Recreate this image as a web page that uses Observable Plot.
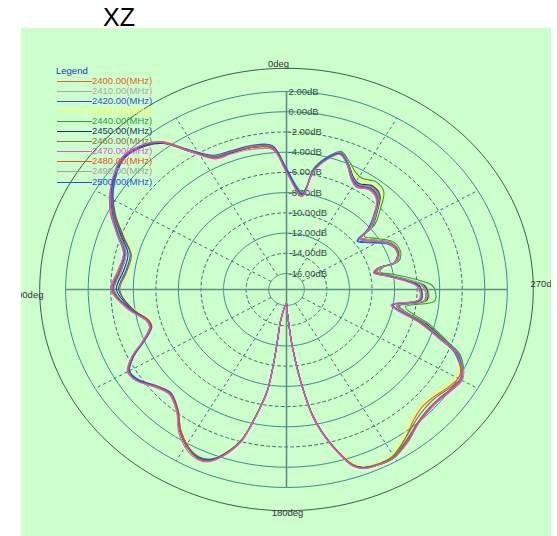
<!DOCTYPE html>
<html><head><meta charset="utf-8">
<script src="https://cdn.jsdelivr.net/npm/d3@7"></script>
<script src="https://cdn.jsdelivr.net/npm/@observablehq/plot@0.6"></script>
<style>
html,body{margin:0;padding:0;background:#fff;}
body{width:557px;height:536px;overflow:hidden;position:relative;font-family:"Liberation Sans",Arial,sans-serif;}
#title{position:absolute;left:103px;top:4px;font-size:25px;line-height:26px;color:#000;}
#panel{position:absolute;left:21px;top:28px;width:530px;height:508px;background:#ccffcc;overflow:hidden;}
#legend{position:absolute;left:0;top:0;width:557px;height:536px;pointer-events:none;font-size:9.5px;}
#legend div{position:absolute;white-space:nowrap;}
</style>
</head><body>
<div id="title">XZ</div>
<div id="panel"></div>
<div id="legend"></div>
<script>
// ---- data ----
const freqs = ["2400.00(MHz)","2410.00(MHz)","2420.00(MHz)","2430.00(MHz)","2440.00(MHz)","2450.00(MHz)","2460.00(MHz)","2470.00(MHz)","2480.00(MHz)","2490.00(MHz)","2500.00(MHz)"];
const colors = ["#e8602a","#a8a8a8","#3050d0","#ffff33","#30a030","#203070","#8a7048","#d65ad6","#f05020","#a0a0a0","#2050e0"];
const drawOrder = [0,1,3,4,5,6,9,2,10,8,7];
const ringLevels = [2,0,-2,-4,-6,-8,-10,-12,-14,-16];
const dashedLevels = [-2,-6,-10,-14];
const spokeAngles = [30,60,120,150,210,240,300,330];
const angleLabels = ["0deg","90deg","180deg","270deg"];
const angleLabelPos = [0,90,180,270];
const angles = [0,5,12,20,26,32,37,41,48,57,
64,70,76,83,90,98,104,107,112,116,
120,124,130,135,141,146,151,155,158,161,
165,168,170.4,171.1,171,170.5,180,182,185.3,187.8,
190.7,194.4,198.8,201.2,205.8,209.7,215.7,221.2,226.2,230.6,
235.5,239.7,242,247.3,250.1,254.5,260.7,265,269.6,272,
274.7,278.8,282,284.7,285.5,290.2,296.3,302.2,307.5,309.5,
313.6,318.4,323.3,328.6,331.9,336.5,340.4,344.3,348.5,351.5];
const s2400 = [-5.7,-3.5,-3.3,-3.1,-3.0,-1.5,0.6,1.3,1.9,0.9,
-0.4,-1.6,-2.7,-2.6,-2.1,-3.5,-4.8,-5.0,-3.9,-2.4,
-1.4,-1.5,-2.5,-3.0,-2.3,-0.8,0.3,0.8,0.6,-0.2,
-2.0,-5.0,-7.4,-10.2,-12.5,-14.5,-16.2,-15.2,-11.7,-8.4,
-4.6,-1.9,0.7,1.3,1.5,1.5,0.5,-0.45,-0.87,-0.77,
-0.35,-0.02,-0.1,-1.2,-2.8,-4.9,-7.6,-5.2,-5.25,-5.5,
-6.6,-8.4,-9.5,-9.0,-7.6,-7.0,-7.3,-8.5,-9.2,-7.9,
-6.7,-5.3,-5.0,-5.5,-5.2,-4.0,-3.3,-4.1,-5.6,-8.0];
const s2410 = [-5.7,-3.4,-3.1,-3.0,-2.9,-1.3,0.7,1.5,2.0,0.9,
-0.4,-1.8,-2.9,-2.8,-2.3,-3.5,-4.8,-4.9,-3.8,-2.3,
-1.3,-1.5,-2.5,-2.9,-2.1,-0.6,0.4,0.9,0.7,-0.1,
-2.0,-4.9,-7.4,-10.1,-12.4,-14.4,-16.1,-15.1,-11.7,-8.4,
-4.6,-1.7,0.9,1.4,1.6,1.6,0.9,0.1,-0.2,-0.2,
0.1,0.4,0.2,-1.0,-2.6,-4.7,-7.4,-5.0,-5.0,-5.3,
-6.4,-8.2,-9.3,-8.9,-7.5,-6.9,-7.2,-8.4,-9.2,-7.8,
-6.6,-5.3,-5.0,-5.4,-5.0,-3.9,-3.2,-4.0,-5.5,-7.9];
const s2420 = [-5.6,-3.3,-3.0,-3.0,-2.8,-1.3,0.6,1.4,1.8,0.7,
-0.7,-2.2,-3.3,-3.2,-2.7,-3.8,-5.0,-5.1,-4.0,-2.5,
-1.5,-1.7,-2.7,-3.1,-2.2,-0.7,0.4,0.8,0.6,-0.3,
-2.2,-5.1,-7.5,-10.3,-12.6,-14.6,-16.2,-15.3,-11.9,-8.6,
-4.8,-1.9,0.8,1.3,1.6,1.6,0.9,0.1,-0.2,-0.3,
0.0,0.2,0.0,-1.45,-3.1,-5.3,-8.1,-5.7,-5.6,-5.8,
-6.9,-8.6,-9.6,-9.1,-7.7,-7.1,-7.5,-8.9,-9.7,-8.3,
-6.9,-5.5,-5.2,-5.7,-5.3,-4.1,-3.3,-4.0,-5.5,-8.1];
const s2430 = [-5.8,-3.6,-3.3,-3.2,-3.1,-1.5,0.5,1.3,1.8,0.8,
-0.8,-2.4,-3.5,-3.4,-2.8,-3.9,-5.1,-5.1,-3.9,-2.4,
-1.4,-1.6,-2.5,-2.9,-2.1,-0.6,0.4,0.8,0.5,-0.4,
-2.3,-5.2,-7.6,-10.3,-12.5,-14.5,-16.2,-15.2,-11.8,-8.6,
-4.9,-2.0,0.6,1.2,1.4,1.3,0.2,-0.7,-1.1,-1.0,
-0.6,-0.3,-0.3,-1.3,-2.7,-4.8,-7.5,-5.0,-5.1,-5.4,
-6.5,-8.3,-9.4,-8.9,-7.5,-6.9,-7.1,-8.3,-9.0,-7.5,
-6.2,-4.8,-4.5,-4.9,-4.7,-3.8,-3.3,-4.1,-5.5,-7.9];
const s2440 = [-5.7,-3.4,-3.1,-3.1,-3.0,-1.4,0.6,1.4,1.9,0.8,
-0.5,-1.9,-2.9,-2.8,-2.3,-3.5,-4.8,-4.9,-3.8,-2.4,
-1.4,-1.6,-2.6,-3.0,-2.2,-0.8,0.3,0.7,0.5,-0.3,
-2.1,-5.0,-7.4,-10.2,-12.5,-14.5,-16.2,-15.2,-11.8,-8.5,
-4.7,-1.8,0.8,1.3,1.5,1.5,0.7,0.0,-0.3,-0.3,
0.0,0.3,0.2,-0.9,-2.4,-4.3,-6.9,-4.4,-4.4,-4.7,
-5.9,-7.9,-9.1,-8.7,-7.3,-6.8,-7.0,-8.1,-8.9,-7.4,
-6.1,-4.6,-4.3,-4.7,-4.5,-3.7,-3.1,-3.9,-5.3,-7.8];
const s2450 = [-5.8,-3.5,-3.2,-3.2,-3.0,-1.5,0.5,1.3,1.8,0.8,
-0.6,-2.0,-3.1,-3.0,-2.5,-3.7,-4.9,-5.0,-3.9,-2.5,
-1.5,-1.6,-2.6,-3.0,-2.2,-0.7,0.4,0.8,0.6,-0.2,
-2.1,-5.0,-7.5,-10.2,-12.5,-14.5,-16.2,-15.2,-11.8,-8.5,
-4.7,-1.8,0.8,1.3,1.6,1.6,0.8,0.1,-0.2,-0.2,
0.1,0.3,0.1,-1.1,-2.6,-4.7,-7.5,-5.1,-5.1,-5.4,
-6.6,-8.4,-9.4,-9.0,-7.6,-7.0,-7.2,-8.4,-9.2,-7.7,
-6.5,-5.1,-4.8,-5.3,-5.0,-3.9,-3.2,-4.0,-5.5,-8.0];
const s2460 = [-5.9,-3.6,-3.2,-3.2,-3.1,-1.4,0.6,1.4,1.9,0.8,
-0.6,-2.1,-3.4,-3.3,-2.8,-3.7,-4.9,-5.0,-3.9,-2.5,
-1.5,-1.6,-2.6,-3.1,-2.3,-0.8,0.3,0.8,0.6,-0.3,
-2.1,-5.0,-7.4,-10.2,-12.4,-14.5,-16.2,-15.2,-11.8,-8.5,
-4.7,-1.9,0.7,1.3,1.5,1.4,0.5,-0.25,-0.6,-0.6,
-0.2,0.2,0.1,-1.2,-2.8,-5.0,-7.7,-5.3,-5.3,-5.6,
-6.7,-8.5,-9.5,-9.0,-7.6,-7.0,-7.3,-8.5,-9.3,-7.8,
-6.6,-5.2,-4.9,-5.4,-5.1,-4.0,-3.3,-4.1,-5.6,-8.0];
const s2470 = [-6.0,-3.7,-3.4,-3.3,-3.2,-1.5,0.6,1.5,2.0,1.0,
-0.3,-1.6,-2.7,-2.5,-2.0,-3.4,-4.8,-4.9,-3.8,-2.3,
-1.3,-1.5,-2.5,-2.9,-2.1,-0.5,0.6,1.0,0.8,-0.1,
-2.0,-4.9,-7.4,-10.1,-12.4,-14.4,-16.2,-15.2,-11.8,-8.4,
-4.6,-1.8,0.9,1.4,1.6,1.6,0.9,0.1,-0.2,-0.2,
0.1,0.3,0.1,-1.3,-3.1,-5.4,-8.2,-5.8,-5.8,-6.1,
-7.1,-8.7,-9.7,-9.2,-7.7,-7.1,-7.4,-8.6,-9.4,-8.0,
-6.8,-5.6,-5.3,-5.7,-5.3,-4.1,-3.4,-4.2,-5.7,-8.2];
const s2480 = [-5.9,-3.5,-3.2,-3.1,-3.0,-1.4,0.7,1.5,2.0,1.0,
-0.2,-1.6,-2.7,-2.6,-2.1,-3.5,-4.9,-5.0,-3.9,-2.4,
-1.4,-1.5,-2.6,-3.0,-2.2,-0.7,0.4,0.9,0.7,-0.2,
-2.1,-5.0,-7.5,-10.2,-12.5,-14.5,-16.2,-15.2,-11.8,-8.5,
-4.7,-1.8,0.8,1.4,1.6,1.6,0.8,0.0,-0.3,-0.3,
0.0,0.2,0.0,-1.3,-3.0,-5.2,-8.1,-5.7,-5.7,-6.0,
-7.0,-8.7,-9.6,-9.1,-7.7,-7.1,-7.4,-8.6,-9.4,-8.0,
-6.8,-5.5,-5.2,-5.6,-5.3,-4.1,-3.4,-4.2,-5.7,-8.3];
const s2490 = [-5.8,-3.4,-3.1,-3.1,-2.9,-1.3,0.7,1.5,2.0,0.9,
-0.4,-1.8,-2.9,-2.8,-2.3,-3.5,-4.8,-4.9,-3.8,-2.4,
-1.4,-1.5,-2.5,-2.9,-2.1,-0.7,0.4,0.9,0.7,-0.2,
-2.0,-4.9,-7.4,-10.1,-12.4,-14.4,-16.1,-15.1,-11.7,-8.4,
-4.6,-1.8,0.9,1.4,1.6,1.6,0.9,0.1,-0.2,-0.2,
0.1,0.4,0.2,-1.1,-2.7,-4.9,-7.6,-5.2,-5.3,-5.5,
-6.6,-8.4,-9.4,-8.9,-7.5,-6.9,-7.2,-8.4,-9.2,-7.8,
-6.6,-5.3,-5.0,-5.4,-5.1,-3.9,-3.2,-4.0,-5.5,-7.9];
const s2500 = [-5.8,-3.5,-3.2,-3.2,-3.0,-1.4,0.6,1.4,1.9,0.9,
-0.4,-1.7,-2.8,-2.7,-2.2,-3.6,-4.9,-5.0,-3.9,-2.4,
-1.5,-1.6,-2.6,-3.0,-2.2,-0.7,0.4,0.8,0.6,-0.2,
-2.1,-5.0,-7.5,-10.2,-12.5,-14.5,-16.2,-15.2,-11.8,-8.5,
-4.7,-1.8,0.8,1.3,1.6,1.6,0.8,0.1,-0.3,-0.3,
0.0,0.3,0.1,-1.2,-2.9,-5.1,-8.0,-5.6,-5.6,-5.9,
-7.0,-8.6,-9.6,-9.1,-7.7,-7.1,-7.4,-8.8,-9.6,-8.1,
-6.8,-5.4,-5.1,-5.5,-5.2,-4.0,-3.3,-4.1,-5.6,-8.0];
const seriesValues = [s2400,s2410,s2420,s2430,s2440,s2450,s2460,s2470,s2480,s2490,s2500];

// ---- geometry (dB -> radial units) ----
const R0 = -17.58;            // dB at the centre
const OUTER = 4.3;            // dB of the outer boundary ellipse
const KX = 11.28, KY = 10.11; // px per radial unit (horizontal / vertical)
const W = 530, H = 508, CX = 265, CY = 261;
const rad = db => db - R0;
const toX = (deg, r) => -r * Math.sin(deg * Math.PI / 180);
const toY = (deg, r) => r * Math.cos(deg * Math.PI / 180);

const rows = [];
drawOrder.forEach(i => {
  seriesValues[i].forEach((v, j) => rows.push({f: freqs[i], x: toX(angles[j], rad(v)), y: toY(angles[j], rad(v))}));
});

const circ = d3.range(0, 361, 2);
const ringRows = lv => lv.flatMap(l => circ.map(a => ({l, x: toX(a, rad(l)), y: toY(a, rad(l))})));
const solidLevels = ringLevels.filter(l => !dashedLevels.includes(l));
const outerRows = circ.map(a => ({x: toX(a, rad(OUTER)), y: toY(a, rad(OUTER))}));
const rMax = rad(ringLevels[0]), rMin = rad(ringLevels[ringLevels.length - 1]);

const labelR = 22.3;
const lblOpts = [
  {anchor: "middle", dx: -8, dy: 0},
  {anchor: "end", dx: 8.5, dy: 5},
  {anchor: "middle", dx: 1, dy: -2},
  {anchor: "start", dx: -7.5, dy: -6}
];

const chart = Plot.plot({
  width: W, height: H, margin: 0,
  style: {background: "transparent", fontFamily: "'Liberation Sans', Arial, sans-serif", overflow: "hidden"},
  x: {type: "linear", domain: [-CX / KX, (W - CX) / KX], range: [0, W], axis: null},
  y: {type: "linear", domain: [-(H - CY) / KY, CY / KY], range: [H, 0], axis: null},
  color: {domain: freqs, range: colors},
  marks: [
    Plot.line(outerRows, {x: "x", y: "y", stroke: "#3c5a50", strokeWidth: 1}),
    Plot.line(ringRows(solidLevels), {x: "x", y: "y", z: "l", stroke: "#3a8a8c", strokeWidth: 1}),
    Plot.line(ringRows(dashedLevels), {x: "x", y: "y", z: "l", stroke: "#2f7070", strokeWidth: 1, strokeDasharray: "3,3"}),
    Plot.link(spokeAngles, {x1: a => toX(a, rMin), y1: a => toY(a, rMin), x2: a => toX(a, rMax), y2: a => toY(a, rMax), stroke: "#2f7070", strokeWidth: 1, strokeDasharray: "3,3"}),
    Plot.link([0, 90], {x1: a => toX(a, rMax), y1: a => toY(a, rMax), x2: a => toX(a + 180, rMax), y2: a => toY(a + 180, rMax), stroke: "#628e84", strokeWidth: 1.6}),
    Plot.text(ringLevels, {x: 0, y: d => rad(d), text: d => d.toFixed(2) + "dB", dx: 2, textAnchor: "start", lineAnchor: "middle", fontSize: 9.5, fill: "#3a4a4a"}),
    ...angleLabels.map((t, i) => Plot.text([t], {x: toX(angleLabelPos[i], labelR), y: toY(angleLabelPos[i], labelR), text: d => d, textAnchor: lblOpts[i].anchor, dx: lblOpts[i].dx, dy: lblOpts[i].dy, lineAnchor: "middle", fontSize: 9.5, fill: "#333"})),
    Plot.line(rows, {x: "x", y: "y", z: "f", stroke: "f", strokeWidth: 1.1, curve: "catmull-rom-closed"})
  ]
});
document.getElementById("panel").appendChild(chart);

// ---- legend ----
const lg = document.getElementById("legend");
const t0 = document.createElement("div");
t0.textContent = "Legend";
t0.style.cssText = "left:56px;top:65px;color:#2233bb;";
lg.appendChild(t0);
freqs.forEach((f, i) => {
  const yc = 80.5 + i * 10.1;
  const ln = document.createElement("div");
  ln.style.cssText = `left:57px;top:${yc}px;width:35px;height:0;border-top:1px solid ${colors[i]};`;
  lg.appendChild(ln);
  const tx = document.createElement("div");
  tx.textContent = f;
  tx.style.cssText = `left:92px;top:${yc - 6}px;color:${colors[i]};line-height:11px;`;
  lg.appendChild(tx);
});
</script>
</body></html>
